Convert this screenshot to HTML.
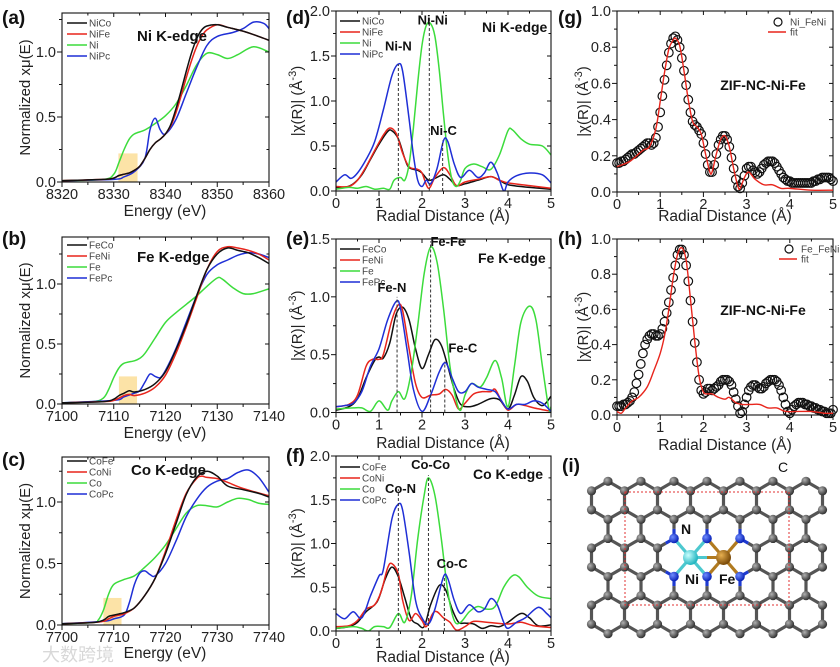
<!DOCTYPE html>
<html><head><meta charset="utf-8">
<style>
html,body{margin:0;padding:0;background:#fff;}
svg{display:block;font-family:"Liberation Sans","Noto Sans CJK SC",sans-serif;}
</style></head>
<body>
<svg id="fig" width="840" height="667" viewBox="0 0 840 667" xmlns="http://www.w3.org/2000/svg">
<defs>
<radialGradient id="gC" cx="35%" cy="35%" r="65%"><stop offset="0" stop-color="#b0b0b0"/><stop offset="1" stop-color="#333"/></radialGradient>
<radialGradient id="gN" cx="35%" cy="35%" r="65%"><stop offset="0" stop-color="#6f8cff"/><stop offset="1" stop-color="#0a23b8"/></radialGradient>
<radialGradient id="gNi" cx="35%" cy="35%" r="65%"><stop offset="0" stop-color="#c8ffff"/><stop offset="1" stop-color="#22b5c0"/></radialGradient>
<radialGradient id="gFe" cx="35%" cy="35%" r="65%"><stop offset="0" stop-color="#e8b050"/><stop offset="1" stop-color="#7a4a08"/></radialGradient>
</defs>
</svg>
<script>
// ---------- DATA ----------
const a_NiCo=[[8320,0.01],[8328,0.02],[8330,0.03],[8331,0.05],[8332,0.06],[8333,0.07],[8334,0.09],[8335,0.12],[8336,0.18],[8337,0.25],[8338,0.30],[8339,0.33],[8340,0.37],[8341,0.44],[8342,0.56],[8343,0.70],[8344,0.85],[8345,0.99],[8346,1.10],[8347,1.17],[8348,1.20],[8350,1.21],[8352,1.19],[8355,1.16],[8358,1.12],[8360,1.09]];
const a_NiFe=[[8320,0.01],[8328,0.02],[8330,0.03],[8331,0.05],[8332,0.06],[8333,0.07],[8334,0.09],[8335,0.12],[8336,0.18],[8337,0.25],[8338,0.30],[8339,0.33],[8340,0.37],[8341,0.43],[8342,0.53],[8343,0.66],[8344,0.80],[8345,0.93],[8346,1.04],[8347,1.12],[8348,1.17],[8350,1.21],[8352,1.19],[8355,1.16],[8358,1.12],[8360,1.09]];
const a_Ni=[[8320,0.01],[8328,0.02],[8330,0.06],[8331,0.15],[8332,0.25],[8333,0.33],[8334,0.37],[8336,0.40],[8338,0.45],[8340,0.51],[8342,0.60],[8344,0.74],[8346,0.90],[8348,0.99],[8350,0.98],[8352,0.95],[8354,0.98],[8357,1.04],[8360,1.00]];
const a_NiPc=[[8320,0.01],[8330,0.02],[8332,0.04],[8334,0.08],[8336,0.18],[8337,0.40],[8338,0.49],[8339,0.40],[8340,0.37],[8342,0.48],[8344,0.68],[8346,0.88],[8348,1.05],[8350,1.12],[8353,1.15],[8355,1.18],[8357,1.23],[8359,1.22],[8360,1.18]];
const b_FeCo=[[7100,0.01],[7108,0.02],[7110,0.04],[7111,0.07],[7112,0.09],[7113,0.11],[7114,0.10],[7116,0.12],[7118,0.17],[7120,0.27],[7122,0.45],[7124,0.66],[7126,0.90],[7128,1.12],[7130,1.25],[7132,1.30],[7134,1.28],[7136,1.26],[7138,1.22],[7140,1.17]];
const b_FeNi=[[7100,0.01],[7108,0.02],[7110,0.03],[7112,0.07],[7113,0.08],[7114,0.07],[7116,0.09],[7118,0.14],[7120,0.24],[7122,0.42],[7124,0.64],[7126,0.88],[7128,1.12],[7130,1.27],[7132,1.31],[7134,1.30],[7136,1.28],[7138,1.25],[7140,1.20]];
const b_Fe=[[7100,0.01],[7106,0.02],[7108,0.05],[7109,0.12],[7110,0.22],[7111,0.30],[7112,0.34],[7114,0.36],[7115,0.38],[7116,0.42],[7118,0.55],[7120,0.68],[7122,0.76],[7124,0.83],[7126,0.90],[7128,0.98],[7130,1.05],[7131,1.04],[7133,0.97],[7135,0.92],[7137,0.92],[7140,0.96]];
const b_FePc=[[7100,0.01],[7110,0.03],[7112,0.06],[7114,0.09],[7115,0.11],[7116,0.18],[7117,0.25],[7118,0.23],[7119,0.22],[7120,0.28],[7122,0.46],[7124,0.68],[7126,0.90],[7128,1.08],[7130,1.16],[7132,1.20],[7134,1.24],[7136,1.26],[7138,1.25],[7140,1.22]];
const c_CoFe=[[7700,0.01],[7706,0.02],[7708,0.04],[7709,0.07],[7710,0.08],[7711,0.09],[7712,0.10],[7714,0.14],[7716,0.24],[7718,0.38],[7720,0.58],[7722,0.82],[7724,1.06],[7726,1.20],[7728,1.25],[7730,1.21],[7732,1.13],[7735,1.10],[7738,1.07],[7740,1.04]];
const c_CoNi=[[7700,0.01],[7706,0.02],[7708,0.03],[7709,0.05],[7710,0.07],[7711,0.08],[7712,0.09],[7714,0.14],[7716,0.24],[7718,0.38],[7720,0.60],[7722,0.85],[7724,1.07],[7726,1.19],[7727,1.21],[7728,1.20],[7730,1.19],[7732,1.16],[7735,1.11],[7740,1.05]];
const c_Co=[[7700,0.01],[7706,0.02],[7707,0.04],[7708,0.12],[7709,0.25],[7710,0.33],[7712,0.37],[7714,0.40],[7716,0.47],[7718,0.55],[7720,0.65],[7722,0.78],[7724,0.91],[7726,0.97],[7728,0.97],[7730,0.96],[7732,1.00],[7734,1.03],[7736,1.02],[7738,0.99],[7740,0.98]];
const c_CoPc=[[7700,0.01],[7708,0.03],[7710,0.05],[7712,0.08],[7713,0.18],[7714,0.33],[7715,0.42],[7716,0.44],[7717,0.41],[7718,0.40],[7720,0.50],[7722,0.68],[7724,0.88],[7726,1.02],[7728,1.12],[7730,1.17],[7732,1.19],[7734,1.24],[7736,1.26],[7738,1.20],[7740,1.08]];
const d_NiCo=[[0,0.04],[0.2,0.04],[0.4,0.08],[0.6,0.18],[0.8,0.35],[1.0,0.52],[1.2,0.66],[1.3,0.67],[1.45,0.58],[1.6,0.36],[1.7,0.26],[1.9,0.23],[2.0,0.20],[2.15,0.12],[2.3,0.14],[2.5,0.18],[2.65,0.13],[2.8,0.06],[3.0,0.08],[3.3,0.12],[3.6,0.16],[3.8,0.12],[4.0,0.07],[4.5,0.04],[5,0.02]];
const d_NiFe=[[0,0.05],[0.3,0.05],[0.5,0.12],[0.7,0.27],[0.9,0.45],[1.1,0.62],[1.25,0.70],[1.4,0.64],[1.55,0.42],[1.7,0.27],[1.9,0.24],[2.0,0.20],[2.15,0.03],[2.3,0.15],[2.5,0.26],[2.65,0.18],[2.8,0.06],[3.0,0.10],[3.3,0.13],[3.6,0.16],[3.8,0.12],[4.0,0.09],[4.5,0.06],[5,0.03]];
const d_Ni=[[0,0.02],[0.3,0.04],[0.5,0.03],[0.7,0.05],[0.9,0.02],[1.1,0.03],[1.25,0.02],[1.35,0.12],[1.5,0.15],[1.6,0.12],[1.7,0.30],[1.8,0.70],[1.9,1.20],[2.0,1.62],[2.1,1.84],[2.2,1.86],[2.3,1.72],[2.4,1.35],[2.5,0.85],[2.6,0.40],[2.7,0.12],[2.8,0.05],[2.9,0.12],[3.0,0.25],[3.2,0.30],[3.4,0.27],[3.6,0.24],[3.8,0.40],[4.0,0.67],[4.1,0.68],[4.3,0.58],[4.5,0.52],[4.8,0.50],[5,0.40]];
const d_NiPc=[[0,0.10],[0.2,0.18],[0.35,0.14],[0.5,0.20],[0.7,0.35],[0.9,0.55],[1.1,0.90],[1.3,1.28],[1.45,1.41],[1.55,1.33],[1.7,0.80],[1.8,0.40],[1.9,0.12],[2.0,0.05],[2.1,0.12],[2.2,0.08],[2.35,0.25],[2.5,0.56],[2.6,0.55],[2.75,0.30],[2.9,0.15],[3.1,0.23],[3.3,0.15],[3.45,0.20],[3.6,0.32],[3.75,0.20],[3.9,0.0],[4.0,0.10],[4.2,0.17],[4.5,0.20],[4.8,0.18],[5,0.09]];
const e_FeCo=[[0,0.02],[0.3,0.05],[0.5,0.12],[0.7,0.30],[0.9,0.45],[1.0,0.48],[1.1,0.47],[1.25,0.60],[1.4,0.85],[1.55,0.91],[1.7,0.80],[1.85,0.55],[2.0,0.38],[2.15,0.50],[2.3,0.63],[2.45,0.58],[2.6,0.40],[2.75,0.20],[2.9,0.07],[3.1,0.05],[3.3,0.07],[3.6,0.12],[3.8,0.11],[4.0,0.03],[4.15,0.15],[4.3,0.31],[4.45,0.27],[4.6,0.13],[4.8,0.06],[5,0.14]];
const e_FeNi=[[0,0.05],[0.3,0.07],[0.5,0.15],[0.7,0.40],[0.85,0.46],[1.0,0.46],[1.1,0.50],[1.3,0.80],[1.45,0.93],[1.55,0.88],[1.7,0.55],[1.85,0.25],[2.0,0.13],[2.2,0.15],[2.4,0.16],[2.55,0.20],[2.7,0.15],[2.85,0.03],[3.0,0.08],[3.2,0.16],[3.4,0.18],[3.6,0.18],[3.7,0.20],[3.85,0.10],[4.0,0.02],[4.2,0.07],[4.4,0.06],[4.6,0.04],[5,0.01]];
const e_Fe=[[0,0.03],[0.4,0.04],[0.6,0.04],[0.8,0.01],[1.0,0.10],[1.2,0.02],[1.3,0.10],[1.45,0.18],[1.6,0.12],[1.75,0.35],[1.9,0.75],[2.05,1.20],[2.2,1.43],[2.35,1.30],[2.5,0.90],[2.65,0.40],[2.8,0.10],[2.9,0.02],[3.0,0.15],[3.15,0.25],[3.35,0.22],[3.5,0.30],[3.7,0.45],[3.85,0.30],[4.0,0.05],[4.15,0.40],[4.3,0.78],[4.5,0.92],[4.65,0.80],[4.8,0.40],[4.95,0.03],[5,0.05]];
const e_FePc=[[0,0.05],[0.2,0.06],[0.4,0.08],[0.6,0.18],[0.8,0.40],[1.0,0.55],[1.2,0.80],[1.4,0.96],[1.5,0.90],[1.65,0.55],[1.8,0.20],[2.0,0.01],[2.2,0.15],[2.4,0.35],[2.55,0.43],[2.7,0.30],[2.85,0.18],[3.0,0.18],[3.15,0.25],[3.3,0.22],[3.5,0.20],[3.7,0.18],[3.85,0.10],[4.0,0.03],[4.2,0.07],[4.4,0.07],[4.6,0.10],[4.8,0.08],[5,0.01]];
const f_CoFe=[[0,0.03],[0.3,0.05],[0.5,0.10],[0.7,0.22],[0.9,0.30],[1.0,0.38],[1.15,0.60],[1.3,0.73],[1.45,0.62],[1.6,0.38],[1.75,0.14],[1.9,0.08],[2.05,0.05],[2.2,0.30],[2.4,0.52],[2.55,0.47],[2.7,0.25],[2.85,0.10],[3.0,0.09],[3.2,0.08],[3.4,0.03],[3.6,0.06],[3.8,0.05],[4.0,0.10],[4.3,0.20],[4.5,0.15],[4.7,0.06],[5,0.07]];
const f_CoNi=[[0,0.05],[0.3,0.06],[0.5,0.12],[0.7,0.25],[0.9,0.30],[1.05,0.45],[1.2,0.72],[1.3,0.77],[1.45,0.65],[1.55,0.35],[1.7,0.12],[1.85,0.20],[2.0,0.12],[2.1,0.05],[2.25,0.20],[2.35,0.22],[2.5,0.15],[2.65,0.10],[2.8,0.01],[3.0,0.05],[3.2,0.11],[3.5,0.10],[4.0,0.08],[4.3,0.10],[4.6,0.06],[5,0.04]];
const f_Co=[[0,0.03],[0.4,0.05],[0.6,0.03],[0.75,0.0],[0.9,0.05],[1.1,0.05],[1.25,0.04],[1.45,0.20],[1.6,0.10],[1.75,0.40],[1.9,1.05],[2.05,1.55],[2.15,1.75],[2.3,1.55],[2.45,1.05],[2.6,0.45],[2.75,0.12],[2.9,0.10],[3.1,0.22],[3.3,0.28],[3.5,0.25],[3.7,0.28],[3.9,0.50],[4.1,0.63],[4.25,0.62],[4.45,0.50],[4.7,0.40],[5,0.37]];
const f_CoPc=[[0,0.20],[0.2,0.14],[0.4,0.22],[0.6,0.15],[0.8,0.40],[1.0,0.63],[1.1,0.70],[1.3,1.28],[1.45,1.45],[1.55,1.38],[1.7,0.90],[1.85,0.35],[2.0,0.15],[2.15,0.08],[2.3,0.25],[2.5,0.62],[2.6,0.60],[2.75,0.35],[2.9,0.20],[3.1,0.30],[3.3,0.22],[3.45,0.25],[3.6,0.37],[3.75,0.30],[3.9,0.10],[4.0,0.03],[4.2,0.10],[4.4,0.15],[4.7,0.27],[4.9,0.20],[5,0.15]];
const gR=[0,0.05,0.1,0.15,0.2,0.25,0.3,0.35,0.4,0.45,0.5,0.55,0.6,0.65,0.7,0.75,0.8,0.85,0.9,0.95,1.0,1.05,1.1,1.15,1.2,1.25,1.3,1.35,1.4,1.45,1.5,1.55,1.6,1.65,1.7,1.75,1.8,1.85,1.9,1.95,2.0,2.05,2.1,2.15,2.2,2.25,2.3,2.35,2.4,2.45,2.5,2.55,2.6,2.65,2.7,2.75,2.8,2.85,2.9,2.95,3.0,3.05,3.1,3.15,3.2,3.25,3.3,3.35,3.4,3.45,3.5,3.55,3.6,3.65,3.7,3.75,3.8,3.85,3.9,3.95,4.0,4.05,4.1,4.15,4.2,4.25,4.3,4.35,4.4,4.45,4.5,4.55,4.6,4.65,4.7,4.75,4.8,4.85,4.9,4.95,5.0];
const g_data=[0.16,0.16,0.17,0.17,0.18,0.19,0.20,0.21,0.21,0.22,0.23,0.24,0.25,0.26,0.27,0.27,0.26,0.27,0.30,0.36,0.44,0.53,0.62,0.70,0.77,0.82,0.85,0.86,0.84,0.80,0.74,0.67,0.59,0.51,0.44,0.39,0.37,0.36,0.34,0.32,0.27,0.21,0.15,0.11,0.11,0.15,0.21,0.26,0.29,0.31,0.31,0.29,0.25,0.19,0.13,0.07,0.03,0.02,0.05,0.09,0.13,0.14,0.14,0.12,0.11,0.10,0.11,0.13,0.15,0.16,0.17,0.17,0.17,0.16,0.14,0.12,0.10,0.08,0.07,0.06,0.06,0.05,0.05,0.05,0.05,0.05,0.05,0.05,0.05,0.05,0.05,0.06,0.06,0.07,0.07,0.08,0.08,0.08,0.08,0.07,0.06];
const g_fit=[[0,0.14],[0.3,0.17],[0.6,0.23],[0.75,0.25],[0.9,0.35],[1.0,0.50],[1.1,0.66],[1.2,0.79],[1.3,0.84],[1.35,0.85],[1.45,0.81],[1.55,0.67],[1.65,0.51],[1.75,0.39],[1.85,0.36],[1.95,0.32],[2.05,0.21],[2.15,0.11],[2.2,0.11],[2.3,0.21],[2.4,0.29],[2.5,0.31],[2.6,0.25],[2.7,0.13],[2.8,0.03],[2.85,0.02],[2.95,0.08],[3.05,0.11],[3.2,0.07],[3.4,0.04],[3.6,0.04],[3.8,0.02],[4.0,0.02],[4.5,0.01],[5,0.01]];
const h_data=[0.05,0.05,0.05,0.06,0.06,0.07,0.08,0.10,0.13,0.18,0.23,0.29,0.35,0.40,0.43,0.45,0.46,0.46,0.45,0.45,0.46,0.49,0.53,0.58,0.64,0.71,0.78,0.85,0.91,0.94,0.94,0.91,0.85,0.76,0.65,0.53,0.41,0.30,0.20,0.14,0.12,0.13,0.15,0.15,0.14,0.15,0.16,0.17,0.19,0.20,0.20,0.20,0.19,0.17,0.13,0.09,0.05,0.01,0.02,0.06,0.10,0.14,0.16,0.17,0.17,0.16,0.15,0.15,0.16,0.18,0.19,0.20,0.20,0.20,0.19,0.17,0.14,0.10,0.06,0.02,0.01,0.03,0.05,0.06,0.07,0.07,0.07,0.06,0.06,0.05,0.05,0.04,0.04,0.03,0.03,0.02,0.02,0.01,0.01,0.01,0.03];
const h_fit=[[0,0.02],[0.1,0.01],[0.2,0.04],[0.35,0.08],[0.5,0.10],[0.7,0.16],[0.85,0.25],[1.0,0.35],[1.1,0.45],[1.2,0.60],[1.3,0.78],[1.4,0.91],[1.5,0.95],[1.6,0.88],[1.7,0.66],[1.8,0.42],[1.9,0.22],[2.0,0.13],[2.1,0.12],[2.2,0.12],[2.35,0.10],[2.5,0.09],[2.6,0.10],[2.75,0.07],[2.9,0.06],[3.1,0.06],[3.3,0.06],[3.5,0.04],[3.7,0.04],[3.9,0.02],[4.2,0.02],[4.5,0.02],[4.8,0.01],[5,0.01]];
const xanesTicks=[0,0.5,1.0];
const rTicks2=[0,0.5,1.0,1.5,2.0];
const rTicks15=[0,0.5,1.0,1.5];
const fitTicks=[0,0.2,0.4,0.6,0.8,1.0];
const rXTicks=[0,1,2,3,4,5];

// ---------- HELPERS ----------
const NS='http://www.w3.org/2000/svg';
const svg=document.getElementById('fig');
function mk(tag,attrs,parent){const e=document.createElementNS(NS,tag);for(const k in attrs)e.setAttribute(k,attrs[k]);(parent||svg).appendChild(e);return e;}
function txt(s,x,y,size,opts,parent){const t=mk('text',Object.assign({x:x,y:y,'font-size':size,fill:'#222'},opts||{}),parent);t.textContent=s;return t;}
const COL={k:'#111',r:'#e8251c',g:'#3cdc3c',b:'#1f2fd6'};
let clipN=0;
function chart(c){
  const g=mk('g',{});
  
  
  const sx=v=>c.px0+(v-c.xmin)/(c.xmax-c.xmin)*(c.px1-c.px0);
  const sy=v=>c.pyb+(v-c.ymin)/(c.ymax-c.ymin)*(c.pyt-c.pyb);
  const top=c.pyt2!==undefined?c.pyt2:sy(c.ymax);
  const id='clip'+(clipN++);
  const cp=mk('clipPath',{id:id},g);
  mk('rect',{x:c.px0,y:top,width:c.px1-c.px0,height:c.pyb-top},cp);
  const plot=mk('g',{'clip-path':'url(#'+id+')'},g);
  
  
  const fr=mk('rect',{x:c.px0,y:top,width:c.px1-c.px0,height:c.pyb-top,fill:'none',stroke:'#111','stroke-width':1.1},g);
  
  
  const xa=mk('g',{},g);
  
  
  for(const v of c.xt){const X=sx(v);
    mk('line',{x1:X,x2:X,y1:c.pyb,y2:c.pyb+5,stroke:'#111'},xa);
    mk('line',{x1:X,x2:X,y1:top,y2:top+4,stroke:'#111'},xa);
    const t=txt(String(v),X,c.pyb+17,14.5,{'text-anchor':'middle'},xa);
    
    
  }
  for(let i=0;i<c.xt.length-1;i++){const X=sx((c.xt[i]+c.xt[i+1])/2);
    mk('line',{x1:X,x2:X,y1:c.pyb,y2:c.pyb+3,stroke:'#111'},xa);
    mk('line',{x1:X,x2:X,y1:top,y2:top+2.5,stroke:'#111'},xa);}
  const ya=mk('g',{},g);
  
  
  for(const v of c.yt){const Y=sy(v);
    mk('line',{x1:c.px0-5,x2:c.px0,y1:Y,y2:Y,stroke:'#111'},ya);
    mk('line',{x1:c.px1-4,x2:c.px1,y1:Y,y2:Y,stroke:'#111'},ya);
    const t=txt(v.toFixed(1),c.px0-6,Y+5,14.5,{'text-anchor':'end'},ya);
    
    
  }
  const st=c.yt[1]-c.yt[0];
  for(let v=c.yt[0]+st/2;v<c.ymax;v+=st){const Y=sy(v);if(Y<top)break;
    mk('line',{x1:c.px0-3,x2:c.px0,y1:Y,y2:Y,stroke:'#111'},ya);
    mk('line',{x1:c.px1-2.5,x2:c.px1,y1:Y,y2:Y,stroke:'#111'},ya);}
  return {g,plot,sx,sy,top};
}
function pathD(pts){let d='M'+pts[0][0].toFixed(2)+','+pts[0][1].toFixed(2);
  for(let i=0;i<pts.length-1;i++){const p0=pts[i-1]||pts[i],p1=pts[i],p2=pts[i+1],p3=pts[i+2]||p2;
    const c1x=p1[0]+(p2[0]-p0[0])/6,c1y=p1[1]+(p2[1]-p0[1])/6,c2x=p2[0]-(p3[0]-p1[0])/6,c2y=p2[1]-(p3[1]-p1[1])/6;
    d+=' C'+c1x.toFixed(2)+','+c1y.toFixed(2)+' '+c2x.toFixed(2)+','+c2y.toFixed(2)+' '+p2[0].toFixed(2)+','+p2[1].toFixed(2);}
  return d;}
function series(ch,data,color,name){const pts=data.map(p=>[ch.sx(p[0]),ch.sy(p[1])]);
  const p=mk('path',{d:pathD(pts),fill:'none',stroke:color,'stroke-width':1.5,'stroke-linejoin':'round'},ch.plot);
  
  
  return p;}
function legend(x,y,dy,items,parent){const lg=mk('g',{},parent);
  
  
  items.forEach((it,i)=>{const Y=y+i*dy;
    mk('line',{x1:x,x2:x+20,y1:Y,y2:Y,stroke:it[1],'stroke-width':1.5},lg);
    const t=txt(it[0],x+22,Y+3.5,10,{fill:'#444'},lg);
    
    });}
function boldT(s,x,y,size,parent,name,anchor){const t=txt(s,x,y,size,{'font-weight':'bold',fill:'#111','text-anchor':anchor||'start'},parent);
  
  return t;}
function ytitle(s,x,y,parent,name){const t=txt('',x,y,15,{'text-anchor':'middle',transform:'rotate(-90 '+x+' '+y+')'},parent);
  t.innerHTML=s;
  
  }
function xtitle(s,x,y,parent){const t=txt(s,x,y,15.5,{'text-anchor':'middle'},parent);
  
  }
function dash(ch,x,y,name){const l=mk('line',{x1:ch.sx(x),x2:ch.sx(x),y1:ch.sy(0),y2:ch.sy(y),stroke:'#333','stroke-width':1,'stroke-dasharray':'3,2'},ch.g);
  
  }
function hl(ch,x0,x1,h){const r=mk('rect',{x:ch.sx(x0),y:ch.sy(h),width:ch.sx(x1)-ch.sx(x0),height:ch.sy(0)-ch.sy(h),fill:'#fbd98a','fill-opacity':0.75},ch.plot);
  
  }

// ---------- XANES PANELS ----------
const xan=[
 {id:'a',xmin:8320,xmax:8360,pyb:182,unit:130,pyt2:13,data:[a_NiCo,a_NiFe,a_Ni,a_NiPc],names:['NiCo','NiFe','Ni','NiPc'],title:'Ni K-edge',tx:137,ty:41,hl:[8330.9,8334.6,0.22],ly:23,lab:'(a)',laby:24,xt:[8320,8330,8340,8350,8360],xty:216},
 {id:'b',xmin:7100,xmax:7140,pyb:404,unit:120,pyt2:237,data:[b_FeCo,b_FeNi,b_Fe,b_FePc],names:['FeCo','FeNi','Fe','FePc'],title:'Fe K-edge',tx:137,ty:262,hl:[7111,7114.5,0.23],ly:245,lab:'(b)',laby:245,xt:[7100,7110,7120,7130,7140],xty:438},
 {id:'c',xmin:7700,xmax:7740,pyb:625,unit:123,pyt2:457,data:[c_CoFe,c_CoNi,c_Co,c_CoPc],names:['CoFe','CoNi','Co','CoPc'],title:'Co K-edge',tx:131,ty:475,hl:[7708,7711.5,0.22],ly:461,lab:'(c)',laby:466,xt:[7700,7710,7720,7730,7740],xty:658}
];
const cols=[COL.k,COL.r,COL.g,COL.b];
for(const p of xan){
  const ymax=(p.pyb-p.pyt2)/p.unit;
  const ch=chart({id:p.id,px0:62,px1:269,pyb:p.pyb,pyt:p.pyt2,pyt2:p.pyt2,xmin:p.xmin,xmax:p.xmax,ymin:0,ymax:ymax,xt:p.xt,yt:xanesTicks});
  hl(ch,p.hl[0],p.hl[1],p.hl[2]);
  [2,3,1,0].forEach(i=>series(ch,p.data[i],cols[i],'series-'+p.names[i]));
  legend(67,p.ly,11,p.names.map((n,i)=>[n,cols[i]]),ch.g);
  boldT(p.title,p.tx,p.ty,15,ch.g,'edge-title');
  boldT(p.lab,2,p.laby,19,ch.g,'panel-label');
  ytitle('Normalized xμ(E)',30,(p.pyb+p.pyt2)/2,ch.g,'y-axis-title');
  xtitle('Energy (eV)',165,p.xty,ch.g);
}

// ---------- R-SPACE PANELS ----------
const rs=[
 {id:'d',pyb:191,pyt:11,ymax:2,yt:rTicks2,data:[d_NiCo,d_NiFe,d_Ni,d_NiPc],names:['NiCo','NiFe','Ni','NiPc'],title:'Ni K-edge',tx:482,ty:32,ly:21,lab:'(d)',laby:24,xty:221,
  dashes:[[1.45,1.41,'Ni-N',1.45,1.56],[2.17,1.95,'Ni-Ni',2.25,1.85],[2.48,0.56,'Ni-C',2.5,0.62]]},
 {id:'e',pyb:412.5,pyt:239,ymax:1.5,yt:rTicks15,data:[e_FeCo,e_FeNi,e_Fe,e_FePc],names:['FeCo','FeNi','Fe','FePc'],title:'Fe K-edge',tx:478,ty:263,ly:249,lab:'(e)',laby:245,xty:448,
  dashes:[[1.42,1.0,'Fe-N',1.3,1.04],[2.2,1.48,'Fe-Fe',2.6,1.44],[2.53,0.44,'Fe-C',2.95,0.52]]},
 {id:'f',pyb:631,pyt:456,ymax:2,yt:rTicks2,data:[f_CoFe,f_CoNi,f_Co,f_CoPc],names:['CoFe','CoNi','Co','CoPc'],title:'Co K-edge',tx:473,ty:479,ly:467,lab:'(f)',laby:462,xty:662,
  dashes:[[1.45,1.62,'Co-N',1.5,1.58],[2.15,1.78,'Co-Co',2.2,1.85],[2.52,0.62,'Co-C',2.7,0.72]]}
];
for(const p of rs){
  const ch=chart({id:p.id,px0:336,px1:551,pyb:p.pyb,pyt:p.pyt,xmin:0,xmax:5,ymin:0,ymax:p.ymax,xt:rXTicks,yt:p.yt});
  [0,1,2,3].forEach(i=>series(ch,p.data[i],cols[i],'series-'+p.names[i]));
  p.dashes.forEach(d=>{dash(ch,d[0],d[1],'bond-marker-'+d[2]);boldT(d[2],ch.sx(d[3]),ch.sy(d[4]),13,ch.g,'bond-label-'+d[2],'middle');});
  legend(340,p.ly,11,p.names.map((n,i)=>[n,cols[i]]),ch.g);
  boldT(p.title,p.tx,p.ty,14,ch.g,'edge-title');
  boldT(p.lab,286,p.laby,19,ch.g,'panel-label');
  ytitle('|χ(R)| (Å<tspan dy="-6" font-size="11">-3</tspan><tspan dy="6">)</tspan>',302,(p.pyb+p.pyt)/2,ch.g,'y-axis-title');
  xtitle('Radial Distance (Å)',443,p.xty,ch.g);
}

// ---------- FIT PANELS ----------
const fp=[
 {id:'g',pyb:192,pyt:11,data:g_data,fit:g_fit,dname:'Ni_FeNi',lx:778,ly:22,title:'ZIF-NC-Ni-Fe',ty:90,lab:'(g)',laby:24,xty:221},
 {id:'h',pyb:415,pyt:239,data:h_data,fit:h_fit,dname:'Fe_FeNi',lx:789,ly:249,title:'ZIF-NC-Ni-Fe',ty:315,lab:'(h)',laby:245,xty:450}
];
for(const p of fp){
  const ch=chart({id:p.id,px0:617,px1:833,pyb:p.pyb,pyt:p.pyt,xmin:0,xmax:5,ymin:0,ymax:1,xt:rXTicks,yt:fitTicks});
  const dg=mk('g',{},ch.g);
  
  
  gR.forEach((r,i)=>{const c=mk('circle',{cx:ch.sx(r),cy:ch.sy(p.data[i]),r:4.3,fill:'none',stroke:'#111','stroke-width':1.2},dg);
    
    });
  const fl=mk('path',{d:pathD(p.fit.map(q=>[ch.sx(q[0]),ch.sy(q[1])])),fill:'none',stroke:COL.r,'stroke-width':1.4},ch.g);
  
  
  const lg=mk('g',{},ch.g);
  
  
  mk('circle',{cx:p.lx,cy:p.ly,r:4,fill:'none',stroke:'#111','stroke-width':1.2},lg);
  txt(p.dname,p.lx+12,p.ly+3.5,10,{fill:'#444'},lg);
  mk('line',{x1:p.lx-10,x2:p.lx+8,y1:p.ly+10,y2:p.ly+10,stroke:COL.r,'stroke-width':1.5},lg);
  txt('fit',p.lx+12,p.ly+13.5,10,{fill:'#444'},lg);
  boldT(p.title,763,p.ty,14,ch.g,'sample-title','middle');
  boldT(p.lab,558,p.laby,19,ch.g,'panel-label');
  ytitle('|χ(R)| (Å<tspan dy="-6" font-size="11">-3</tspan><tspan dy="6">)</tspan>',588,(p.pyb+p.pyt)/2,ch.g,'y-axis-title');
  xtitle('Radial Distance (Å)',725,p.xty,ch.g);
}

// ---------- STRUCTURE PANEL (i) ----------
const gi=mk('g',{});


boldT('(i)',562,472,19,gi,'panel-label');
const W=33,S=19.05,CX=707,CY=557.5;
const verts=new Map(),bonds=new Map();
function key(x,y){return Math.round(x*2)+'_'+Math.round(y*2);}
for(let k=-2;k<=2;k++){const cy=CY+k*1.5*S;const odd=Math.abs(k)%2===1;
  const js=[-3,-2,-1,0,1,2,3];
  for(const j of js){const cx=CX+j*W+(odd?W/2:0);if(cx>815||cx<600)continue;
    const vs=[];for(let a=0;a<6;a++){const ang=(90+60*a)*Math.PI/180;vs.push([cx+S*Math.cos(ang),cy-S*Math.sin(ang)]);}
    vs.forEach(v=>verts.set(key(v[0],v[1]),v));
    for(let a=0;a<6;a++){const v1=vs[a],v2=vs[(a+1)%6];const kk=[key(v1[0],v1[1]),key(v2[0],v2[1])].sort().join('|');bonds.set(kk,[v1,v2]);}}}
const NiP=[CX-W/2,CY],FeP=[CX+W/2,CY];
const removed=v=>(Math.hypot(v[0]-NiP[0],v[1]-NiP[1])<12||Math.hypot(v[0]-FeP[0],v[1]-FeP[1])<12);
const Npos=[[CX-W,CY-S],[CX,CY-S],[CX+W,CY-S],[CX-W,CY+S],[CX,CY+S],[CX+W,CY+S]];
const isN=v=>Npos.some(n=>Math.hypot(n[0]-v[0],n[1]-v[1])<2);
const bg=mk('g',{},gi);


bonds.forEach(b=>{if(removed(b[0])||removed(b[1]))return;
  const nb=isN(b[0])||isN(b[1]);
  if(nb){const n=isN(b[0])?b[0]:b[1],o=isN(b[0])?b[1]:b[0];const mx=(n[0]+o[0])/2,my=(n[1]+o[1])/2;
    mk('line',{x1:o[0],y1:o[1],x2:mx,y2:my,stroke:'#555','stroke-width':3.2},bg);
    mk('line',{x1:mx,y1:my,x2:n[0],y2:n[1],stroke:'#1e3ad0','stroke-width':3.2},bg);}
  else mk('line',{x1:b[0][0],y1:b[0][1],x2:b[1][0],y2:b[1][1],stroke:'#555','stroke-width':3.2},bg);});
const mb=mk('g',{},gi);


[[NiP,Npos[0]],[NiP,Npos[1]],[NiP,Npos[3]],[NiP,Npos[4]]].forEach(p=>mk('line',{x1:p[0][0],y1:p[0][1],x2:p[1][0],y2:p[1][1],stroke:'#4cc8cf','stroke-width':3.2},mb));
[[FeP,Npos[1]],[FeP,Npos[2]],[FeP,Npos[4]],[FeP,Npos[5]]].forEach(p=>mk('line',{x1:p[0][0],y1:p[0][1],x2:p[1][0],y2:p[1][1],stroke:'#b07a20','stroke-width':3.2},mb));
mk('line',{x1:NiP[0],y1:NiP[1],x2:(NiP[0]+FeP[0])/2,y2:NiP[1],stroke:'#4cc8cf','stroke-width':3},mb);
mk('line',{x1:(NiP[0]+FeP[0])/2,y1:NiP[1],x2:FeP[0],y2:FeP[1],stroke:'#b07a20','stroke-width':3},mb);
const ag=mk('g',{},gi);


verts.forEach(v=>{if(removed(v)||isN(v))return;
  const c=mk('circle',{cx:v[0],cy:v[1],r:4.6,fill:'url(#gC)'},ag);
  
  });
Npos.forEach(n=>{const c=mk('circle',{cx:n[0],cy:n[1],r:4.8,fill:'url(#gN)'},gi);
  
  });
const ni=mk('circle',{cx:NiP[0],cy:NiP[1],r:7.5,fill:'url(#gNi)'},gi);


const fe=mk('circle',{cx:FeP[0],cy:FeP[1],r:7.5,fill:'url(#gFe)'},gi);


const rr=mk('rect',{x:625,y:492,width:164,height:113,fill:'none',stroke:'#e03030','stroke-width':1,'stroke-dasharray':'2,2'},gi);


boldT('N',681,534,14,gi,'atom-label-N');
boldT('Ni',685,584,14,gi,'atom-label-Ni');
boldT('Fe',719,584,14,gi,'atom-label-Fe');
boldT('C',778,472,14,gi,'atom-label-C').setAttribute('font-weight','normal');
const wm=txt('大数跨境',42,661,18,{fill:'#d8d8d8'});


</script>
</body></html>
